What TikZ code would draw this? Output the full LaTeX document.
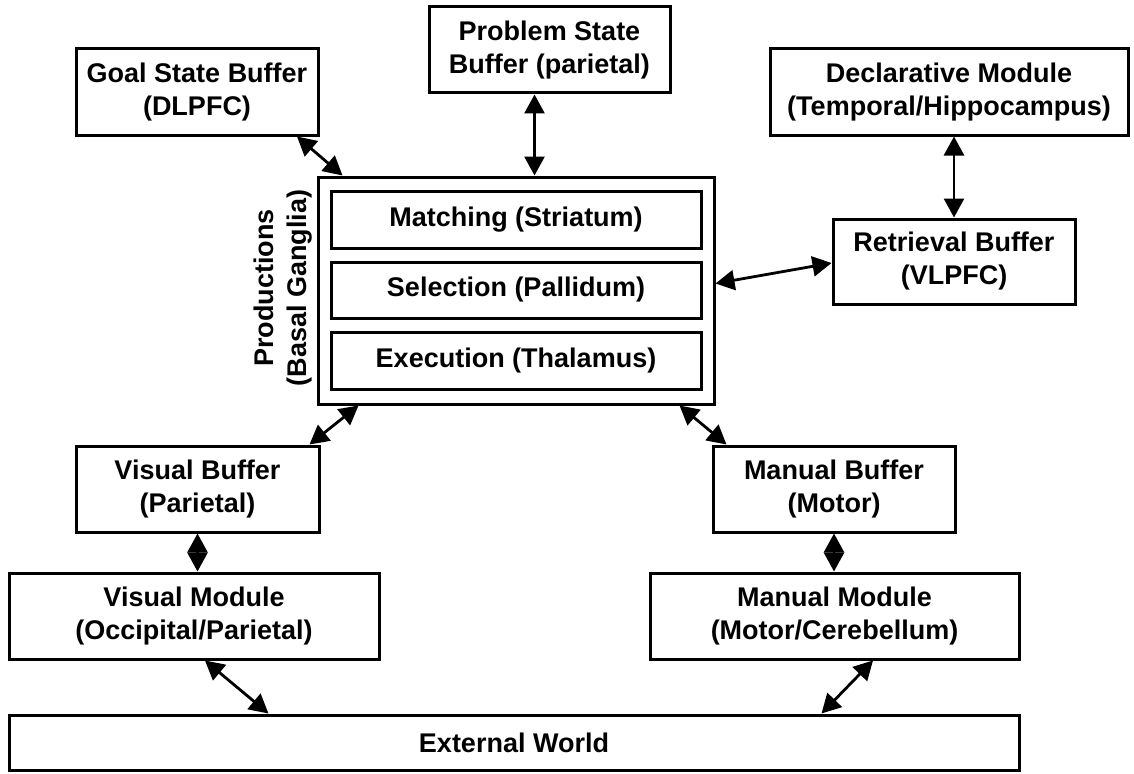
\documentclass[tikz,border=0pt]{standalone}
\usepackage{fontspec}
\setmainfont{Liberation Sans}
\usetikzlibrary{arrows.meta}

\begin{document}
\begin{tikzpicture}[x=1pt,y=-1pt,
	box/.style={draw, line width=3pt, inner sep=0pt, align=center,
		font=\bfseries\fontsize{27}{33}\selectfont},
	link/.style={{Triangle[length=19pt,width=20pt]}-{Triangle[length=19pt,width=20pt]}, line width=2.8pt}]
	\useasboundingbox (0,0) rectangle (1134,773);

	% Buffers on top
	\node[box, minimum width=242, minimum height=86] (goal) at (197,92) {Goal State Buffer\\(DLPFC)};
	\node[box, minimum width=241, minimum height=86] (problem) at (549.5,50) {Problem State\\Buffer (parietal)};
	\node[box, minimum width=358, minimum height=86] (declar) at (949,92) {Declarative Module\\(Temporal/Hippocampus)};

	% Productions (basal ganglia)
	\node[box, minimum width=396, minimum height=227] (prod) at (516,290.5) {};
	\node[box, minimum width=370, minimum height=57] (match) at (516,219.5) {Matching (Striatum)};
	\node[box, minimum width=370, minimum height=56] (select) at (516,290) {Selection (Pallidum)};
	\node[box, minimum width=370, minimum height=57] (exec) at (516,360.5) {Execution (Thalamus)};
	\node[box, draw=none, rotate=90] (prodname) at (283,288) {Productions\\(Basal Ganglia)};

	\node[box, minimum width=242, minimum height=85] (retr) at (954,261.5) {Retrieval Buffer\\(VLPFC)};

	% Perceptual / motor side
	\node[box, minimum width=243, minimum height=86] (vbuf) at (197.5,489) {Visual Buffer\\(Parietal)};
	\node[box, minimum width=370, minimum height=86] (vmod) at (194,616) {Visual Module\\(Occipital/Parietal)};
	\node[box, minimum width=242, minimum height=86] (mbuf) at (834,489) {Manual Buffer\\(Motor)};
	\node[box, minimum width=369, minimum height=86] (mmod) at (834.5,616) {Manual Module\\(Motor/Cerebellum)};
	\node[box, minimum width=1010, minimum height=55] (world) at (514,742.5) {External World};

	% Connections
	\draw[link] ([xshift=100pt]goal.south) -- ([xshift=26pt]prod.north west);
	\draw[link] ([xshift=-15pt]problem.south) -- ([xshift=-15pt]problem.south |- prod.north);
	\draw[link] (declar.south -| retr.north) -- (retr.north);
	\draw[link] ([yshift=7pt]prod.east) -- ([yshift=-1.5pt]retr.west);
	\draw[link] ([xshift=42pt]prod.south west) -- ([xshift=-11pt]vbuf.north east);
	\draw[link] ([xshift=-36pt]prod.south east) -- ([xshift=15pt]mbuf.north west);
	\draw[link] (vbuf.south) -- (vbuf.south |- vmod.north);
	\draw[link] (mbuf.south) -- (mbuf.south |- mmod.north);
	\draw[link] ([xshift=11pt]vmod.south) -- ([xshift=261pt]world.north west);
	\draw[link] ([xshift=38.5pt]mmod.south) -- ([xshift=-199pt]world.north east);
\end{tikzpicture}
\end{document}
